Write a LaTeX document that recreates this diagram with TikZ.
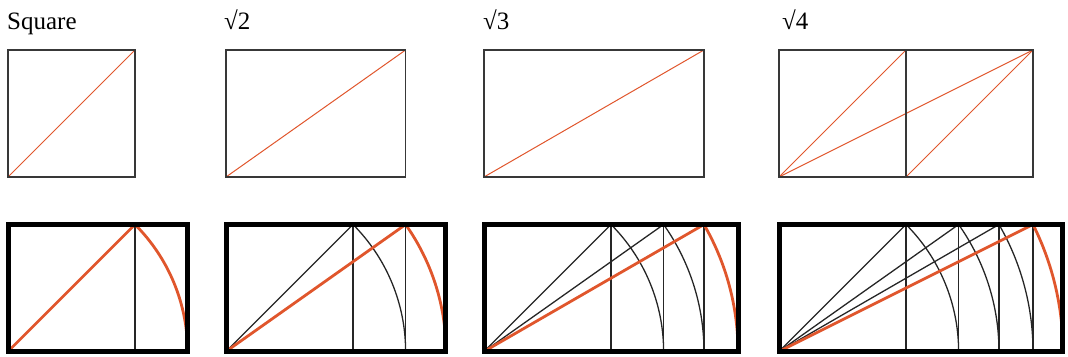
\documentclass[tikz,border=0pt]{standalone}
\usepackage{fontspec}
\setmainfont{Liberation Serif}
\usetikzlibrary{positioning}
\definecolor{rootred}{RGB}{224,86,44}

\begin{document}
\begin{tikzpicture}[
  x=1pt, y=1pt,
  thinframe/.style={draw=black!78, line width=1.3pt},
  thindiag/.style={draw=rootred, line width=1pt},
  thickframe/.style={draw=black, line width=5pt, line join=miter},
  guide/.style={draw=black!85, line width=1.3pt},
  rootline/.style={draw=rootred, line width=2.8pt},
  lbl/.style={font=\fontsize{25}{30}\selectfont, anchor=base west, inner sep=0pt},
]
\useasboundingbox (0,0) rectangle (1068,356);
\def\s{127}

% === LABELS ===
\node[lbl] (lsquare) at (7,326) {Square};
\node[lbl] (lroottwo) at (224,326) {√2};
\node[lbl] (lrootthree) at (483,326) {√3};
\node[lbl] (lrootfour) at (782,326) {√4};

% === TOP ROW ===
\coordinate (sq) at (8,179);
\draw[thindiag] (sq) -- ++(\s,\s);
\draw[thinframe] (sq) rectangle ++(\s,\s);

\coordinate (rt) at (226,179);
\draw[thindiag] (rt) -- ++({\s*sqrt(2)},\s);
\draw[thinframe] (rt) rectangle ++({\s*sqrt(2)},\s);

\coordinate (rh) at (484,179);
\draw[thindiag] (rh) -- ++({\s*sqrt(3)},\s);
\draw[thinframe] (rh) rectangle ++({\s*sqrt(3)},\s);

\coordinate (rf) at (779,179);
\coordinate (rfmid) at (906,179);
\draw[thindiag] (rf) -- ++(\s,\s);
\draw[thindiag] (rf) -- ++({2*\s},\s);
\draw[thindiag] (rfmid) -- ++(\s,\s);
\draw[thinframe] (rf) rectangle ++({2*\s},\s);
\draw[thinframe] (rfmid) -- ++(0,\s);

% === BOTTOM ROW ===
\foreach \xo/\k in {8/1, 226/2, 484/3, 779/4}{
  \coordinate (base) at (\xo,4.5);
  % guides
  \foreach \j in {1,...,\k}{
    \pgfmathsetmacro\xa{\xo+\s*sqrt(\j)}
    \pgfmathsetmacro\r{\s*sqrt(\j+1)}
    \pgfmathsetmacro\ang{atan(1/sqrt(\j))}
    \draw[guide] (\xa,4.5) -- (\xa,131.5);
    \ifnum\j<\k
      \draw[guide] (base) -- (\xa,131.5);
      \draw[guide] (\xa,131.5) arc[start angle=\ang, end angle=0, radius=\r pt];
    \fi
  }
  % red construction
  \pgfmathsetmacro\xa{\xo+\s*sqrt(\k)}
  \pgfmathsetmacro\r{\s*sqrt(\k+1)}
  \pgfmathsetmacro\ang{atan(1/sqrt(\k))}
  \draw[rootline] (base) -- (\xa,131.5);
  \draw[rootline] (\xa,131.5) arc[start angle=\ang, end angle=0, radius=\r pt];
  % frame
  \draw[thickframe] (base) rectangle ({\xo+\r},131.5);
}

\end{tikzpicture}
\end{document}
